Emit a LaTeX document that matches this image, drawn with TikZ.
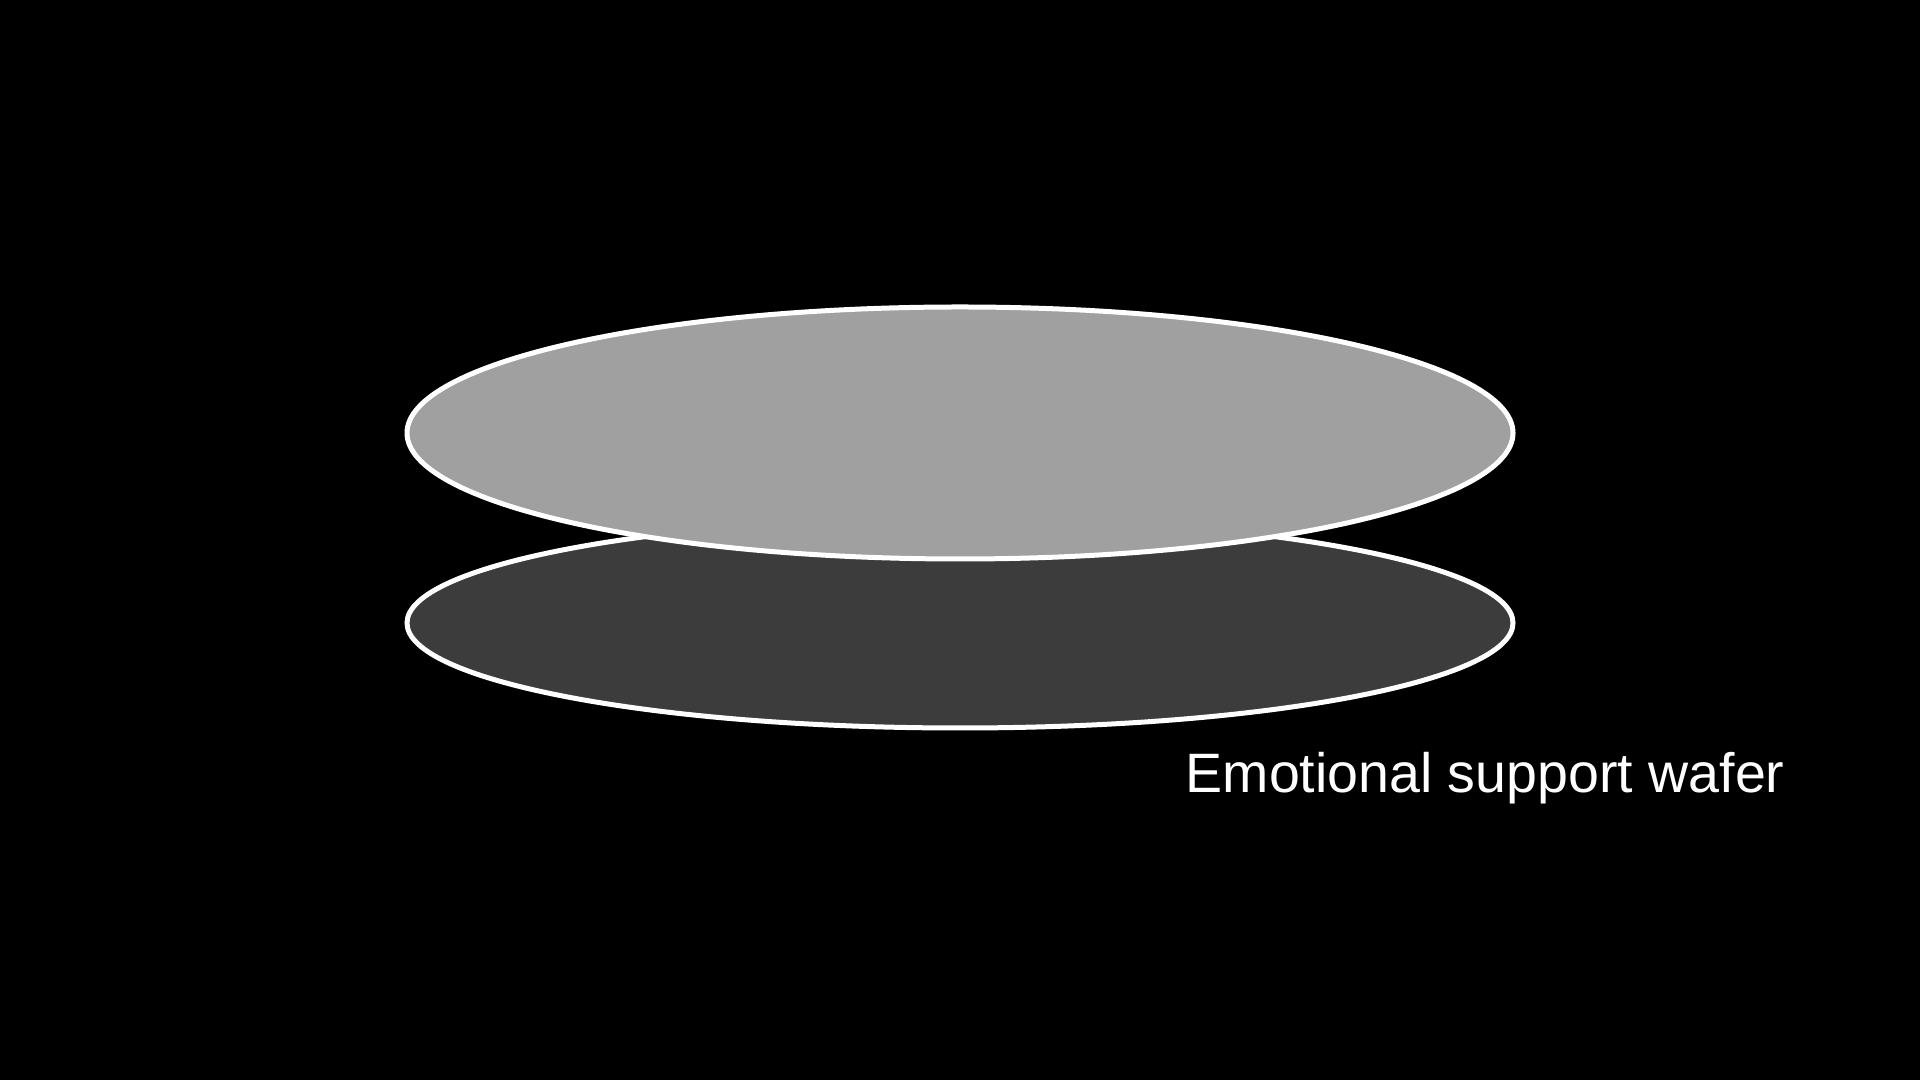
\documentclass[tikz,border=0pt]{standalone}
\usepackage{fontspec}
\setmainfont{Liberation Sans}
\usetikzlibrary{shapes.geometric}
\definecolor{topgray}{RGB}{160,160,160}
\definecolor{botgray}{RGB}{60,60,60}
\begin{document}
\begin{tikzpicture}
\tikzset{
  wafer/.style={ellipse, draw=white, line width=0.05cm, inner sep=0pt, minimum width=11.06cm},
  label/.style={text=white, font=\fontsize{15.8pt}{19pt}\selectfont, anchor=base west, inner sep=0pt}
}
\fill[black] (0,0) rectangle (19.2,10.8);
\useasboundingbox (0,0) rectangle (19.2,10.8);
\node[wafer, fill=botgray, minimum height=2.10cm] (bottom) at (9.60,4.57) {};
\node[wafer, fill=topgray, minimum height=2.52cm] (top) at (9.60,6.47) {};
\node[label] (lbl) at (11.85,2.87) {Emotional support wafer};
\end{tikzpicture}
\end{document}
